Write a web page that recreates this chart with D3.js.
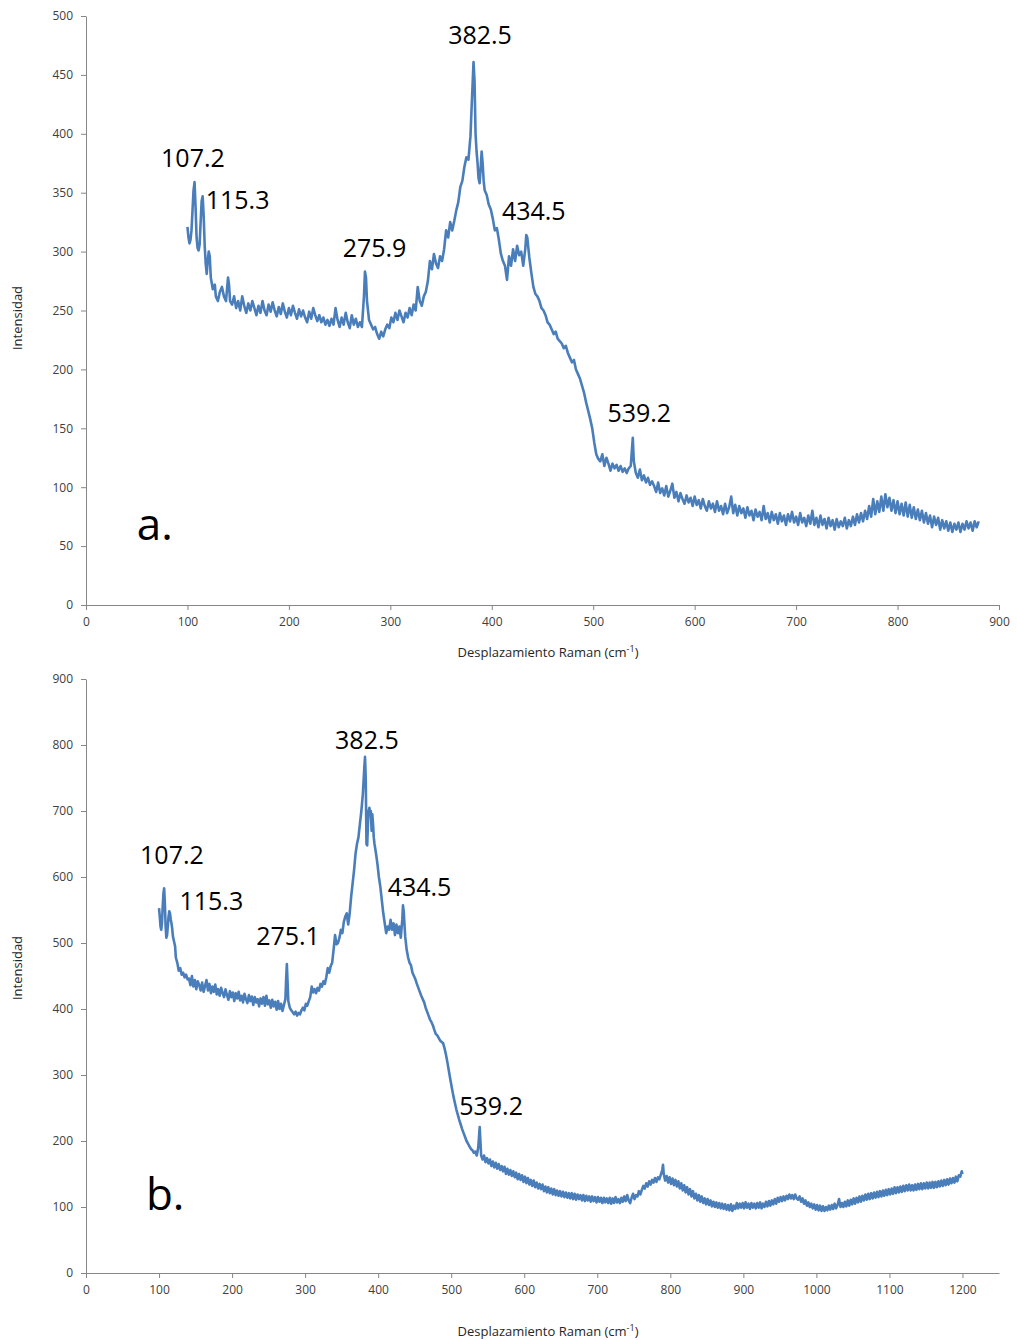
<!DOCTYPE html>
<html>
<head>
<meta charset="utf-8">
<script src="https://cdn.jsdelivr.net/npm/d3@7"></script>
<style>
  body { margin: 0; background: #fff; }
  svg { display: block; font-family: "Open Sans", sans-serif; }
  .axis path, .axis line { stroke: #868686; }
  .axis text { fill: #404040; font-size: 12px; font-family: "Open Sans", sans-serif; }
</style>
</head>
<body>
<svg id="chart" width="1017" height="1340"></svg>
<script>
// spectrum a. : [Raman shift (cm-1), intensity]
const spectrumA = [
  [100,321],[101,312],[102,307],[103,310],[104,318],[105,335],[106,352],[107,359],[108,338],[109,312],[110,303],[111,301],[112,306],[113,325],[114,343],[115,347],[116,330],[117,305],[118,290],[119,281],[120,292],[121,300],[122,296],[123,278],[125,268],[127,272],[128,262],[130,258],[132,266],[134,270],[136,262],[138,258],[140,278],[141,272],[142,258],[144,255],[146,262],[148,252],[150,258],[152,250],[154,262],[156,254],[158,248],[160,256],[162,250],[164,258],[166,252],[168,246],[170,254],[172,248],[174,258],[176,250],[178,246],[180,255],[182,249],[184,257],[186,250],[188,245],[190,253],[192,247],[194,256],[196,249],[198,244],[200,252],[202,246],[204,254],[206,248],[208,243],[210,251],[212,245],[214,250],[216,244],[218,240],[220,249],[222,243],[224,252],[226,246],[228,241],[230,246],[232,240],[234,244],[236,238],[238,242],[240,237],[242,243],[244,238],[246,252],[248,242],[250,236],[252,244],[254,238],[256,248],[258,240],[260,235],[262,246],[264,238],[266,243],[268,236],[270,240],[272,236],[274,262],[275,283],[276,278],[277,258],[279,242],[281,238],[283,234],[285,236],[287,230],[289,226],[291,232],[293,228],[295,234],[297,238],[299,235],[301,244],[303,240],[305,248],[307,242],[309,250],[311,245],[313,240],[315,248],[317,244],[319,252],[321,246],[323,255],[325,250],[327,270],[329,258],[331,254],[333,262],[335,266],[337,275],[339,292],[341,285],[343,298],[345,290],[347,286],[349,296],[351,292],[353,302],[355,318],[357,312],[359,325],[361,318],[363,326],[365,335],[367,342],[369,355],[371,360],[373,372],[375,380],[377,378],[379,398],[380,420],[381,440],[382,461],[383,445],[384,400],[385,385],[386,375],[387,362],[388,358],[389,370],[390,385],[391,375],[392,360],[393,352],[395,348],[397,340],[399,336],[401,328],[403,318],[405,320],[407,310],[409,298],[411,292],[413,288],[415,276],[417,296],[419,288],[421,302],[423,292],[425,305],[427,297],[429,300],[431,288],[433,302],[434,314],[435,312],[437,295],[439,282],[441,270],[443,264],[445,262],[447,258],[449,252],[451,250],[453,246],[455,240],[457,238],[459,234],[461,230],[463,232],[465,226],[467,224],[469,222],[471,218],[473,220],[475,214],[477,210],[479,206],[481,208],[483,200],[485,196],[487,192],[489,186],[491,180],[493,172],[495,165],[497,158],[499,150],[501,138],[503,128],[505,124],[507,122],[509,128],[511,118],[513,125],[515,120],[517,114],[519,120],[521,116],[523,119],[525,114],[527,118],[529,113],[531,116],[533,112],[535,116],[537,118],[538,130],[539,142],[540,122],[542,112],[544,108],[546,115],[548,106],[550,110],[552,104],[554,108],[556,102],[558,105],
  [560,101],[562,96],[564,104],[566,95],[568,99],[570,93],[572,101],[574,92],[576,97],[578,103],[580,91],[582,96],[584,88],[586,95],[588,90],[590,86],[592,93],[594,87],[596,91],[598,84],[600,92],[602,85],[604,89],[606,82],[608,90],[610,84],[612,80],[614,88],[616,82],[618,86],[620,79],[622,88],[624,80],[626,84],[628,77],[630,86],[632,78],[634,83],[636,92],[638,78],[640,85],[642,76],[644,84],[646,78],[648,82],[650,74],[652,83],[654,76],[656,80],[658,72],[660,81],[662,75],[664,79],[666,72],[668,84],[670,73],[672,78],[674,70],[676,79],[678,72],[680,77],[682,69],[684,78],[686,71],[688,76],[690,68],[692,77],[694,71],[696,79],[698,70],[700,75],[702,68],[704,78],[706,70],[708,74],[710,67],[712,76],[714,69],[716,80],[718,68],[720,74],[722,66],[724,76],[726,68],[728,73],[730,65],[732,74],[734,67],[736,72],[738,64],[740,73],[742,66],[744,71],[746,67],[748,74],[750,65],[752,72],[754,67],[756,75],[758,68],[760,77],[762,70],[764,78],[766,71],[768,80],[770,73],[772,84],[774,75],[776,90],[778,77],[780,88],[782,79],[784,92],[786,80],[788,94],[790,83],[792,91],[794,80],[796,89],[798,78],[800,88],[802,77],[804,86],[806,76],[808,87],[810,75],[812,85],[814,74],[816,83],[818,73],[820,81],[822,72],[824,80],[826,70],[828,78],[830,69],[832,76],[834,66],[836,75],[838,68],[840,74],[842,64],[844,72],[846,65],[848,71],[850,63],[852,70],[854,62],[856,69],[858,64],[860,70],[862,62],[864,69],[866,64],[868,71],[870,65],[872,70],[874,63],[876,71],[878,66],[880,71]
];

// spectrum b.
const spectrumB = [
  [100,553],[101,540],[102,525],[103,520],[104,530],[105,555],[106,575],[107,583],[108,560],[109,525],[110,508],[111,512],[112,525],[113,540],[114,548],[115,545],[116,536],[117,530],[118,522],[119,510],[120,505],[122,495],[123,478],[125,470],[127,458],[129,462],[131,452],[133,455],[135,448],[137,452],[139,445],
  [141,446],[143,436],[145,450],[147,434],[149,444],[151,430],[153,442],[155,436],[157,428],[159,440],[161,426],[163,435],[165,444],[167,428],[169,438],[171,424],[173,434],[175,426],[177,437],[179,422],[181,430],[183,420],[185,432],[187,424],[189,418],[191,430],[193,421],[195,414],[197,427],[199,418],[201,425],[203,412],[205,424],[207,416],[209,426],[211,413],[213,420],[215,410],[217,423],[219,415],[221,409],[223,421],[225,412],[227,419],[229,406],[231,418],[233,410],[235,415],[237,404],[239,416],[241,408],[243,418],[245,405],[247,420],[249,407],[251,413],[253,402],[255,414],[257,404],[259,411],[261,399],[263,412],[265,400],[267,408],[269,397],[271,406],
  [273,415],[274,445],[275,468],[276,440],[277,412],[279,402],[281,398],[283,395],[285,392],[287,396],[289,390],[291,394],[293,392],[295,398],[297,402],[299,398],[301,408],[303,405],[305,412],[307,418],[309,434],[311,425],[313,430],[315,424],[317,432],[319,428],[321,438],[323,434],[325,442],[327,438],[329,448],[331,462],[333,455],[335,465],[337,470],[339,490],[341,512],[343,498],[345,500],[347,508],[349,520],[351,515],[353,532],[355,540],[357,545],[359,528],[361,545],[363,570],[365,590],[367,610],[369,635],[371,650],[373,660],[375,680],[377,700],[379,725],[381,765],[382,782],[383,750],[384,650],[385,648],[386,680],[387,700],[388,705],[389,695],[390,700],[391,670],[392,695],[393,680],[394,660],[395,650],[397,636],[399,620],[401,600],[403,585],[405,565],[407,545],[409,530],[411,515],[413,525],[415,520],[417,535],[419,520],[421,530],[423,512],[425,528],[427,515],[429,525],[431,508],[433,535],[434,557],[435,548],[437,510],[439,490],[441,478],[443,470],[445,466],[447,455],[449,450],[451,445],[453,438],[455,432],[457,426],[459,420],[461,415],[463,410],[465,402],[467,396],[469,390],[471,384],[473,380],[475,375],[477,368],[479,362],[481,360],[483,356],[485,352],[487,350],[489,348],[491,340],[493,330],[495,318],[497,305],[499,292],[501,280],[503,268],[505,258],[507,248],[509,240],[511,232],[513,225],[515,218],[517,212],[519,206],[521,200],[523,196],[525,192],[527,188],[529,186],[531,182],[533,184],[535,178],[537,190],[538,205],[539,221],[540,200],[541,178],
  [543,172],[545,178],[547,168],[549,174],[551,166],[553,172],[555,162],[557,169],[559,160],[561,167],[563,158],[565,165],[567,156],[569,162],[571,154],[573,161],[575,150],[577,158],[579,149],[581,156],[583,147],[585,154],[587,145],[589,152],[591,142],[593,150],[595,141],[597,148],[599,138],[601,146],[603,136],[605,144],[607,134],[609,141],[611,132],[613,140],[615,130],[617,137],[619,128],[621,135],[623,127],[625,134],[627,124],[629,131],[631,122],[633,130],[635,121],[637,128],[639,119],[641,127],[643,118],[645,125],[647,117],[649,124],[651,116],[653,123],[655,115],[657,122],[659,114],[661,121],[663,113],[665,121],[667,112],[669,120],[671,111],[673,119],[675,112],[677,118],[679,110],[681,118],[683,109],[685,117],[687,110],[689,116],[691,108],[693,116],[695,109],[697,115],[699,107],[701,115],[703,108],[705,114],[707,106],[709,114],[711,107],[713,113],[715,106],[717,114],[719,105],[721,113],[723,106],[725,115],[727,107],[729,112],[731,106],[733,114],[735,108],[737,116],[739,109],[741,118],[743,110],[745,106],[747,114],[749,120],[751,112],[753,118],[755,116],[757,124],[759,119],
  [761,126],[763,132],[765,128],[767,136],[769,131],[771,139],[773,134],[775,141],[777,137],[779,144],[781,138],[783,145],[785,142],[787,149],[789,156],[790,164],
  [791,150],[793,140],[795,147],[797,137],[799,145],[801,135],[803,143],[805,133],[807,141],[809,131],[811,139],[813,128],[815,136],[817,125],[819,133],[821,122],[823,130],[825,119],[827,127],[829,116],[831,124],[833,113],[835,120],[837,110],[839,118],[841,108],[843,116],[845,106],[847,113],[849,104],[851,112],[853,103],[855,110],[857,101],[859,108],[861,100],[863,107],[865,99],[867,106],[869,98],[871,105],[873,97],[875,104],[877,96],[879,103],[881,95],[883,104],[885,94],[887,102],[889,97],[891,106],[893,98],[895,105],[897,99],[899,106],[901,98],[903,107],[905,99],[907,105],[909,97],[911,106],[913,99],[915,105],[917,98],[919,106],[921,99],[923,107],[925,98],[927,105],[929,100],[931,108],[933,101],[935,109],[937,102],[939,110],[941,104],[943,112],[945,105],[947,114],[949,108],[951,115],[953,109],[955,116],[957,110],[959,117],[961,112],[963,119],[965,113],[967,118],[969,112],[971,119],[973,113],[975,111],[977,116],[979,108],[981,113],[983,105],[985,110],[987,102],[989,107],[991,100],[993,105],[995,98],[997,104],[999,96],[1001,103],[1003,95],[1005,102],[1007,94],[1009,101],[1011,94],[1013,100],[1015,95],[1017,102],[1019,96],[1021,103],[1023,97],[1025,105],[1027,98],[1029,103],[1031,112],[1033,100],[1035,106],[1037,100],[1039,108],[1041,101],[1043,110],[1045,102],[1047,111],[1049,104],[1051,113],[1053,105],[1055,114],[1057,107],[1059,116],[1061,108],[1063,117],[1065,110],[1067,119],[1069,111],[1071,120],[1073,112],[1075,121],[1077,113],[1079,122],[1081,114],[1083,123],[1085,115],[1087,124],[1089,116],[1091,125],[1093,117],[1095,126],[1097,118],[1099,127],[1101,119],[1103,128],[1105,120],[1107,130],[1109,121],[1111,130],[1113,122],[1115,131],[1117,123],[1119,132],[1121,124],[1123,133],[1125,125],[1127,134],[1129,125],[1131,133],[1133,125],[1135,134],[1137,126],[1139,135],[1141,127],[1143,136],[1145,127],[1147,136],[1149,128],[1151,137],[1153,128],[1155,137],[1157,129],[1159,138],[1161,129],[1163,138],[1165,130],[1167,139],[1169,131],[1171,140],[1173,132],[1175,141],[1177,133],[1179,142],[1181,134],[1183,143],[1185,136],[1187,144],[1189,137],[1191,146],[1193,139],[1195,148],[1197,146],[1199,154],[1200,150]
];

// peak labels: [text, shift, intensity] anchored at the label's left baseline
const peaksA = [["107.2",74,372],["115.3",118,336],["275.9",253,295],["382.5",357,476],["434.5",410,327],["539.2",514,155]];
const peaksB = [["107.2",74,619],["115.3",128,550],["275.1",233,497],["382.5",341,794],["434.5",413,571],["539.2",511,240]];

const xTicksA = d3.range(0, 901, 100);
const yTicksA = d3.range(0, 501, 50);
const xTicksB = d3.range(0, 1201, 100);
const yTicksB = d3.range(0, 901, 100);

const svg = d3.select("#chart");
svg.append("rect").attr("width", 1017).attr("height", 1340).attr("fill", "#fff");

function panel(cfg) {
  const g = svg.append("g");
  const x = d3.scaleLinear().domain(cfg.xDomain).range([86, 999]);
  const y = d3.scaleLinear().domain(cfg.yDomain).range(cfg.yRange);

  g.append("g").attr("class", "axis")
    .attr("transform", `translate(0,${cfg.yRange[0]})`)
    .call(d3.axisBottom(x).tickValues(cfg.xTicks).tickFormat(d3.format("d"))
      .tickSize(5).tickSizeOuter(0).tickPadding(7));
  g.append("g").attr("class", "axis")
    .attr("transform", "translate(86,0)")
    .call(d3.axisLeft(y).tickValues(cfg.yTicks).tickFormat(d3.format("d"))
      .tickSize(5).tickSizeOuter(0).tickPadding(8));

  const line = d3.line().x(d => x(d[0])).y(d => y(d[1]));
  g.append("path").datum(cfg.data)
    .attr("d", line)
    .attr("fill", "none")
    .attr("stroke", "#4a7ebb")
    .attr("stroke-width", 2.6)
    .attr("stroke-linejoin", "round");

  g.selectAll(".peak").data(cfg.peaks).join("text")
    .attr("x", d => x(d[1]))
    .attr("y", d => y(d[2]))
    .attr("font-size", 25)
    .attr("fill", "#000")
    .text(d => d[0]);

  g.append("text")
    .attr("x", x(cfg.tag[1])).attr("y", y(cfg.tag[2]))
    .attr("font-size", 44).attr("fill", "#000")
    .text(cfg.tag[0]);

  const xt = g.append("text")
    .attr("x", 548).attr("y", cfg.xTitleY)
    .attr("text-anchor", "middle").attr("font-size", 13).attr("fill", "#262626");
  xt.append("tspan").text("Desplazamiento Raman (cm");
  xt.append("tspan").attr("dy", -5).attr("font-size", 9).text("-1");
  xt.append("tspan").attr("dy", 5).text(")");

  g.append("text")
    .attr("transform", `translate(22,${cfg.yTitleY}) rotate(-90)`)
    .attr("text-anchor", "middle").attr("font-size", 13).attr("fill", "#262626")
    .text("Intensidad");
}

panel({
  data: spectrumA, peaks: peaksA, tag: ["a.", 50, 55],
  xDomain: [0, 900], yDomain: [0, 500], yRange: [605, 16],
  xTicks: xTicksA, yTicks: yTicksA, xTitleY: 657, yTitleY: 318
});
panel({
  data: spectrumB, peaks: peaksB, tag: ["b.", 82, 95],
  xDomain: [0, 1250], yDomain: [0, 900], yRange: [1273, 679],
  xTicks: xTicksB, yTicks: yTicksB, xTitleY: 1336, yTitleY: 968
});
</script>
</body>
</html>
